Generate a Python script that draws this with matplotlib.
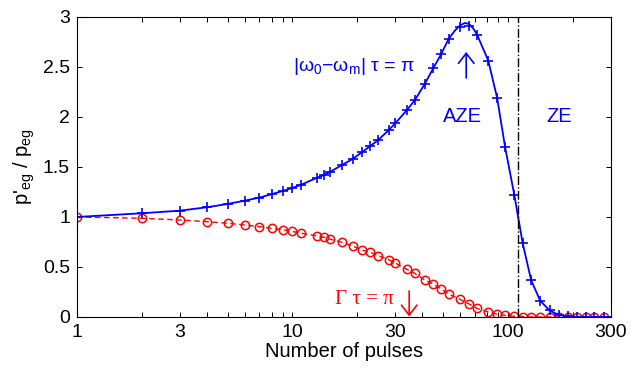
import matplotlib
matplotlib.use("Agg")
import matplotlib.pyplot as plt
from matplotlib.ticker import FixedLocator, NullFormatter

plt.rcParams['font.family'] = ['Liberation Sans', 'DejaVu Sans']
plt.rcParams['mathtext.fontset'] = 'custom'
plt.rcParams['mathtext.rm'] = 'Liberation Sans'
plt.rcParams['mathtext.it'] = 'Liberation Sans:italic'
plt.rcParams['mathtext.bf'] = 'Liberation Sans:bold'

# number of pulses (marker positions)
pulses = [1, 2, 3, 4, 5, 6, 7, 8, 9, 10, 11, 13, 14, 15, 17, 19, 21, 23, 25, 28,
          30, 34, 37, 41, 45, 49, 53, 60, 66, 72, 81, 89, 97, 107, 117, 128,
          141, 156, 172, 190, 208, 229, 252, 278]

# |w0-wm| tau = pi  (AZE / ZE), blue
ratio_aze = [1.00, 1.037, 1.063, 1.097, 1.13, 1.163, 1.193, 1.227, 1.26, 1.29,
             1.323, 1.393, 1.42, 1.453, 1.52, 1.58, 1.647, 1.71, 1.77, 1.87,
             1.937, 2.07, 2.17, 2.327, 2.487, 2.63, 2.78, 2.903, 2.913, 2.82,
             2.563, 2.193, 1.697, 1.22, 0.737, 0.37, 0.163, 0.065, 0.02, 0.005,
             0.0, 0.0, 0.0, 0.0]

# Gamma tau = pi, red
ratio_gamma = [1.00, 0.987, 0.97, 0.953, 0.937, 0.92, 0.903, 0.887, 0.873, 0.855,
               0.837, 0.81, 0.797, 0.777, 0.747, 0.71, 0.67, 0.645, 0.613, 0.573,
               0.54, 0.475, 0.435, 0.37, 0.33, 0.28, 0.23, 0.175, 0.13, 0.085,
               0.05, 0.028, 0.015, 0.007, 0.003, 0.0, 0.0, 0.0, 0.0, 0.0,
               0.0, 0.0, 0.0, 0.0]

# solid blue curve
curve_x = [1, 2, 3, 4, 5, 6, 7, 8, 9, 10, 11, 13, 14, 15, 17, 19, 21, 23, 25, 28,
           30, 34, 37, 41, 45, 49, 53, 57, 60, 63, 66, 69, 72, 81, 89, 97, 107,
           117, 128, 141, 156, 172, 190, 208, 229, 252, 278, 300]
curve_y = [1.00, 1.037, 1.063, 1.097, 1.13, 1.163, 1.193, 1.227, 1.26, 1.29,
           1.323, 1.393, 1.42, 1.453, 1.52, 1.58, 1.647, 1.71, 1.77, 1.87,
           1.937, 2.07, 2.17, 2.327, 2.487, 2.63, 2.78, 2.87, 2.915, 2.94, 2.93,
           2.885, 2.82, 2.563, 2.193, 1.697, 1.22, 0.737, 0.37, 0.163, 0.065,
           0.02, 0.005, 0.0, 0.0, 0.0, 0.0, 0.0]

zeno_border = 111

xticks = [1, 3, 10, 30, 100, 300]
xticklabels = ['1', '3', '10', '30', '100', '300']
xminor = [2, 4, 5, 6, 7, 8, 9, 20, 40, 50, 60, 70, 80, 90, 200]
yticks = [0, 0.5, 1, 1.5, 2, 2.5, 3]
yticklabels = ['0', '0.5', '1', '1.5', '2', '2.5', '3']

fig = plt.figure(figsize=(6.31, 3.69), dpi=100)
ax = fig.add_axes([0.122, 0.141, 0.846, 0.813])

ax.plot(pulses, ratio_gamma, '--', color='red', lw=1.0, dashes=(4, 2.5),
        marker='o', markersize=6, markerfacecolor='none', markeredgewidth=1.1)
ax.plot(curve_x, curve_y, '-', color='blue', lw=1.3)
ax.plot(pulses, ratio_aze, '+', color='blue', markersize=6.5, markeredgewidth=1.2)

ax.axvline(zeno_border, color='black', ls='-.', lw=1.0)

ax.set_xscale('log')
ax.set_xlim(1, 300)
ax.set_ylim(0, 3)
ax.xaxis.set_major_locator(FixedLocator(xticks))
ax.set_xticklabels(xticklabels)
ax.xaxis.set_minor_locator(FixedLocator(xminor))
ax.xaxis.set_minor_formatter(NullFormatter())
ax.set_yticks(yticks)
ax.set_yticklabels(yticklabels)
ax.tick_params(which='both', direction='in', top=True, right=True,
               length=3.5, width=0.75, labelsize=14, pad=5)
for s in ax.spines.values():
    s.set_linewidth(0.8)

ax.set_xlabel('Number of pulses', fontsize=14.5, labelpad=1)
ax.set_ylabel(r"p$'_\mathregular{eg}$ / p$_\mathregular{eg}$", fontsize=14.5, labelpad=4)

ax.text(10.04, 2.5, r'|ω$_\mathregular{0}$−ω$_\mathregular{m}$| τ = π', color='blue',
        fontsize=14, ha='left', va='center')
arrow = '->,head_length=0.45,head_width=0.35'
ax.annotate('', xy=(64, 2.65), xytext=(64, 2.39),
            arrowprops=dict(arrowstyle=arrow, color='blue', lw=1.2, mutation_scale=16,
                            shrinkA=0, shrinkB=0))
ax.text(61.7, 2.0, 'AZE', color='blue', fontsize=14.5, ha='center', va='center')
ax.text(172, 2.0, 'ZE', color='blue', fontsize=14.5, ha='center', va='center')

ax.text(15.7, 0.17, 'Γ τ = π', color='red', fontsize=15, ha='left', va='center',
        family=['Liberation Serif', 'DejaVu Serif'])
ax.annotate('', xy=(34.8, 0.005), xytext=(34.8, 0.26),
            arrowprops=dict(arrowstyle=arrow, color='red', lw=1.2, mutation_scale=16,
                            shrinkA=0, shrinkB=0))

fig.savefig('out.png', dpi=100)
